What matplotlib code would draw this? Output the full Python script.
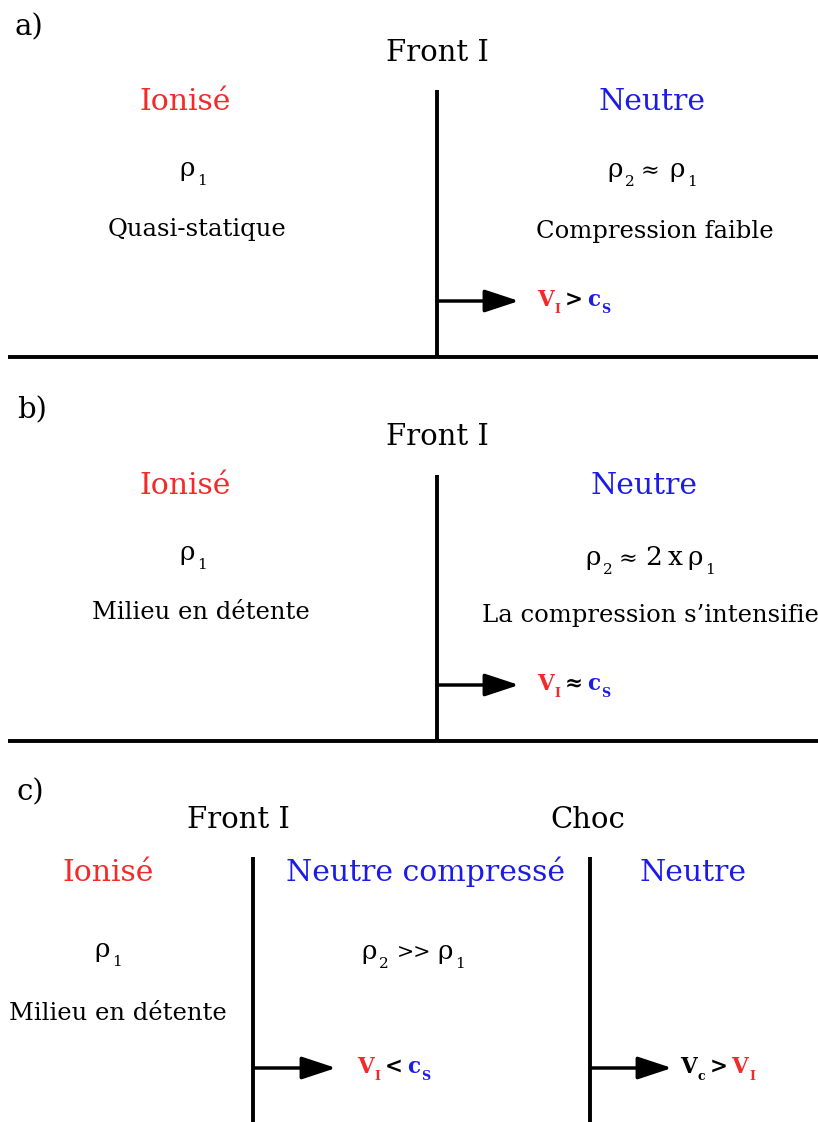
import matplotlib.pyplot as plt

plt.rcParams['font.family'] = ['DejaVu Serif']

RED = '#f22a2a'
BLUE = '#1c1ce6'
BLACK = 'black'

W, H = 818, 1122

# panel texts
panel_labels = ['a)', 'b)', 'c)']
label_pos = [(14, 35), (17, 418), (17, 800)]

front_titles = [('Front I', 437, 61), ('Front I', 437, 445),
                ('Front I', 238, 828), ('Choc', 588, 828)]

region_names = [('Ionisé', RED, 185, 110), ('Neutre', BLUE, 652, 110),
                ('Ionisé', RED, 185, 494), ('Neutre', BLUE, 644, 494),
                ('Ionisé', RED, 108, 881), ('Neutre compressé', BLUE, 425, 881),
                ('Neutre', BLUE, 693, 881)]

descriptions = [('Quasi-statique', 197, 236, 'center'),
                ('Compression faible', 655, 238, 'center'),
                ('Milieu en détente', 201, 619, 'center'),
                ('La compression s\u2019intensifie', 482, 622, 'left'),
                ('Milieu en détente', 118, 1020, 'center')]

# densities: list of runs (text, size factor, subscript?, gap before)
densities = [
    (193, 176, [('ρ', 1, False, 0), ('1', 1, True, 2)]),
    (652, 177, [('ρ', 1, False, 0), ('2', 1, True, 2), ('≈', 0.85, False, 6),
                ('ρ', 1, False, 10), ('1', 1, True, 2)]),
    (193, 560, [('ρ', 1, False, 0), ('1', 1, True, 2)]),
    (650, 565, [('ρ', 1, False, 0), ('2', 1, True, 2), ('≈', 0.85, False, 6), ('2', 1, False, 8),
                ('x', 1, False, 6), ('ρ', 1, False, 5), ('1', 1, True, 2)]),
    (108, 957, [('ρ', 1, False, 0), ('1', 1, True, 2)]),
    (413, 959, [('ρ', 1, False, 0), ('2', 1, True, 2), ('>>', 0.78, False, 8),
                ('ρ', 1, False, 6), ('1', 1, True, 2)]),
]

# velocity labels: (x_left, y_baseline, runs (text, color, subscript?, gap))
velocities = [
    (537, 306, [('V', RED, False, 0), ('I', RED, True, 1), ('>', BLACK, False, 4),
                ('c', BLUE, False, 4), ('S', BLUE, True, 1)]),
    (537, 690, [('V', RED, False, 0), ('I', RED, True, 1), ('≈', BLACK, False, 4),
                ('c', BLUE, False, 4), ('S', BLUE, True, 1)]),
    (357, 1073, [('V', RED, False, 0), ('I', RED, True, 1), ('<', BLACK, False, 4),
                 ('c', BLUE, False, 4), ('S', BLUE, True, 1)]),
    (680, 1073, [('V', BLACK, False, 0), ('c', BLACK, True, 1), ('>', BLACK, False, 4),
                 ('V', RED, False, 4), ('I', RED, True, 1)]),
]

# fronts: x, top, bottom
fronts = [(437, 90, 357), (437, 475, 741), (253, 857, 1122), (590, 857, 1122)]
baselines = [357, 741]
arrows = [(437, 519, 301), (437, 519, 685), (253, 336, 1068), (590, 672, 1068)]

fig = plt.figure(figsize=(W / 100, H / 100), dpi=100)
ax = fig.add_axes([0, 0, 1, 1])
ax.set_xlim(0, W)
ax.set_ylim(H, 0)
ax.axis('off')

for lab, (x, y) in zip(panel_labels, label_pos):
    ax.text(x, y, lab, fontsize=21, va='baseline', ha='left')

for s, x, y in front_titles:
    ax.text(x, y, s, fontsize=21, va='baseline', ha='center')

for s, c, x, y in region_names:
    ax.text(x, y, s, fontsize=21.5, color=c, va='baseline', ha='center')

for s, x, y, ha in descriptions:
    ax.text(x, y, s, fontsize=17.5, va='baseline', ha=ha)

for x, top, bot in fronts:
    ax.plot([x, x], [top, bot], color='black', lw=2.8, solid_capstyle='butt')
for y in baselines:
    ax.plot([8, W], [y, y], color='black', lw=2.8, solid_capstyle='butt')
for x0, x1, y in arrows:
    ax.annotate('', xy=(x1, y), xytext=(x0, y),
                arrowprops=dict(arrowstyle='-|>,head_length=1.0,head_width=0.33',
                                mutation_scale=21, lw=2.5, color='black',
                                shrinkA=0, shrinkB=0))

renderer = fig.canvas.get_renderer()


def place_runs(x, y, runs, size, weight, center):
    texts = []
    for text, color, scale, sub, gap in runs:
        fs = size * 0.58 if sub else size * scale
        dy = size * 0.45 if sub else 0
        t = ax.text(0, y + dy, text, fontsize=fs, color=color,
                    fontweight=weight, va='baseline', ha='left')
        texts.append((t, gap))
    widths = [t.get_window_extent(renderer).width for t, _ in texts]
    total = sum(widths) + sum(g for _, g in texts)
    cx = x - total / 2 if center else x
    for (t, gap), w in zip(texts, widths):
        cx += gap
        t.set_x(cx)
        cx += w


for x, y, runs in densities:
    place_runs(x, y, [(s, BLACK, k, sub, g) for s, k, sub, g in runs], 19, 'normal', True)

for x, y, runs in velocities:
    place_runs(x, y, [(s, c, 1, sub, g) for s, c, sub, g in runs], 15.5, 'bold', False)

fig.savefig('out.png', dpi=100)
